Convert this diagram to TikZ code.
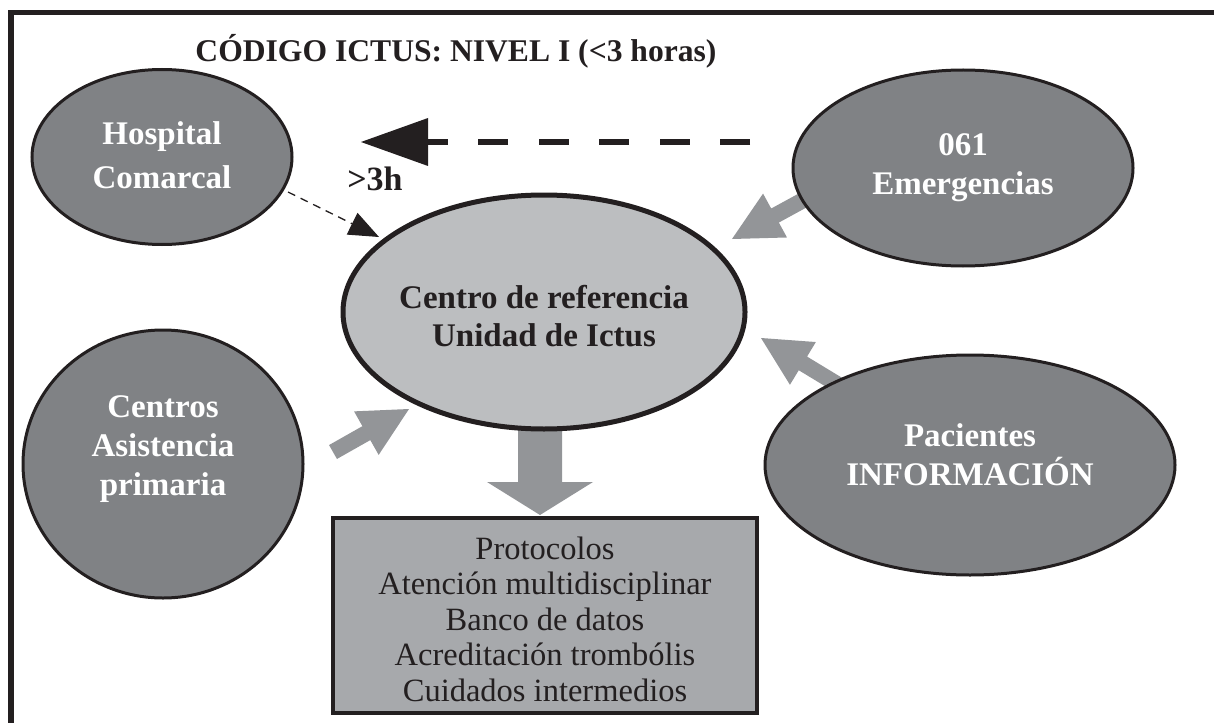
\documentclass[tikz,border=0pt]{standalone}
\usepackage{fontspec}
\setmainfont{Liberation Serif}
\usetikzlibrary{arrows.meta,shapes.geometric,calc}
\definecolor{dk}{HTML}{231F20}
\definecolor{ellgray}{HTML}{808285}
\definecolor{centgray}{HTML}{BCBEC0}
\definecolor{boxgray}{HTML}{A7A9AC}
\definecolor{arrgray}{HTML}{939598}
\newcommand{\fatarr}[5]{% tail, tip, shaft half width, head half width, head length
  \fill[arrgray]
    ($(#1)!#3!90:(#2)$) --
    ($($(#2)!#5!(#1)$)!#3!90:(#2)$) --
    ($($(#2)!#5!(#1)$)!#4!90:(#2)$) --
    (#2) --
    ($($(#2)!#5!(#1)$)!#4!-90:(#2)$) --
    ($($(#2)!#5!(#1)$)!#3!-90:(#2)$) --
    ($(#1)!#3!-90:(#2)$) -- cycle;}
\begin{document}
\begin{tikzpicture}[x=1pt,y=-1pt,
  sat/.style={ellipse, draw=dk, line width=3pt, fill=ellgray, inner sep=0pt},
  wtext/.style={text=white, font=\fontsize{33}{39}\selectfont\bfseries, align=center, inner sep=0pt},
  btext/.style={text=dk, font=\fontsize{33}{38}\selectfont\bfseries, align=center, inner sep=0pt},
  boxtext/.style={text=dk, font=\fontsize{32.5}{35.5}\selectfont, align=center, inner sep=0pt}]
\useasboundingbox (0,0) rectangle (1214,722);
% frame
\draw[dk, line width=5.5pt, line join=miter] (11,740) -- (11,12.5) -- (1230,12.5);
\node[btext, font=\fontsize{31.6}{38}\selectfont\bfseries] (title) at (456,51) {CÓDIGO ICTUS: NIVEL I (<3 horas)};
% coordinates for fat arrows
\coordinate (a1tail) at (820,191);
\coordinate (a1tip) at (732,239);
\coordinate (a2tail) at (333,452);
\coordinate (a2tip) at (409,409);
\coordinate (a3tail) at (855,395);
\coordinate (a3tip) at (761,338);
\coordinate (a4tail) at (540,400);
\coordinate (a4tip) at (540,515);
\fatarr{a1tail}{a1tip}{8pt}{25pt}{49pt}
\fatarr{a2tail}{a2tip}{8pt}{25pt}{49pt}
\fatarr{a3tail}{a3tip}{8pt}{25pt}{49pt}
\fatarr{a4tail}{a4tip}{22pt}{53pt}{33pt}
% ellipses
\node[sat, minimum width=260pt, minimum height=175pt] (hosp) at (162,157) {};
\node[wtext, font=\fontsize{33}{44}\selectfont\bfseries] (hosptxt) at (162,155) {Hospital\\Comarcal};
\node[sat, minimum width=340pt, minimum height=196pt] (emer) at (963,168) {};
\node[wtext] (emertxt) at (963,168) {061\\Emergencias};
\node[sat, minimum width=280pt, minimum height=268pt] (prim) at (163,464) {};
\node[wtext] (primtxt) at (163,449) {Centros\\Asistencia\\primaria};
\node[sat, minimum width=410pt, minimum height=220pt] (pac) at (970,465) {};
\node[wtext] (pactxt) at (970,455) {Pacientes\\INFORMACIÓN};
\node[ellipse, draw=dk, line width=5pt, fill=centgray, inner sep=0pt,
      minimum width=402pt, minimum height=234pt] (cent) at (544,312) {};
\node[btext] (centtxt) at (544,316) {Centro de referencia\\Unidad de Ictus};
% box
\node[draw=dk, line width=4.5pt, fill=boxgray, minimum width=424pt, minimum height=195pt, inner sep=0pt] (box) at (545,615.5) {};
\node[boxtext] (boxtxt) at (545,619) {Protocolos\\Atención multidisciplinar\\Banco de datos\\Acreditación trombólis\\Cuidados intermedios};
% big dashed arrow
\coordinate (dstart) at (750,142);
\coordinate (dback) at (428,142);
\coordinate (dtip) at (361,142);
\draw[dk, line width=6pt, dash pattern=on 30pt off 30.5pt] (dstart) -- (dback);
\fill[dk] (dtip) -- (428,118) -- (428,166) -- cycle;
\node[btext, font=\fontsize{34}{38}\selectfont\bfseries] (late) at (375,179) {>3h};
% small dashed arrow
\coordinate (sstart) at (288,192);
\coordinate (stip) at (379,237);
\draw[dk, line width=1.3pt, dash pattern=on 8pt off 6pt, -{Triangle[length=30pt,width=24pt]}] (sstart) -- (stip);
\end{tikzpicture}
\end{document}
